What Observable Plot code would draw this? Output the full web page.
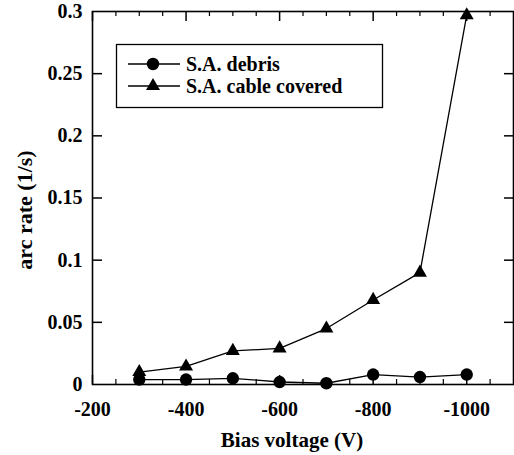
<!DOCTYPE html>
<html>
<head>
<meta charset="utf-8">
<script src="https://cdn.jsdelivr.net/npm/d3@7"></script>
<script src="https://cdn.jsdelivr.net/npm/@observablehq/plot@0.6"></script>
<style>
  html, body { margin: 0; padding: 0; background: #fff; }
  #chart { width: 514px; height: 455px; }
</style>
</head>
<body>
<div id="chart"></div>
<script>
// ---- data ----
const voltages = [-300, -400, -500, -600, -700, -800, -900, -1000];
const debris   = [0.004, 0.004, 0.005, 0.002, 0.001, 0.008, 0.006, 0.008];
const cable    = [0.010, 0.0145, 0.027, 0.029, 0.045, 0.068, 0.090, 0.297];
const seriesNames = ["S.A. debris", "S.A. cable covered"];
const xTickLabels = [-200, -400, -600, -800, -1000];
const xMinorTicks = [-250, -300, -350, -450, -500, -550, -650, -700, -750, -850, -900, -950, -1050];
const yTickLabels = [0, 0.05, 0.1, 0.15, 0.2, 0.25, 0.3];
const yInnerTicks = [0.05, 0.1, 0.15, 0.2, 0.25];
const xTitle = "Bias voltage (V)";
const yTitle = "arc rate (1/s)";

const debrisData = voltages.map((v, i) => ({v, rate: debris[i]}));
const cableData  = voltages.map((v, i) => ({v, rate: cable[i]}));

const W = 514, H = 455;
const mL = 92, mR = 1, mT = 11, mB = 71;
const pw = W - mL - mR, ph = H - mT - mB;

const chart = Plot.plot({
  width: W, height: H,
  marginLeft: mL, marginRight: mR, marginTop: mT, marginBottom: mB,
  style: {fontFamily: "'Liberation Serif', 'Times New Roman', serif", fontSize: "20px", fontWeight: "bold", background: "#fff", color: "#000", overflow: "visible"},
  x: {domain: [-200, -1100], ticks: xTickLabels, tickSize: 0, tickPadding: 17, tickFormat: d => String(d), label: null},
  y: {domain: [0, 0.3], ticks: yTickLabels, tickSize: 0, tickPadding: 10, tickFormat: d => String(d), label: null},
  marks: [
    // inward ticks
    Plot.tickX(xTickLabels, {x: d => d, insetBottom: ph - 10, stroke: "#000", strokeWidth: 1.5}),
    Plot.tickX(xMinorTicks, {x: d => d, insetBottom: ph - 5, stroke: "#000", strokeWidth: 1.2}),
    Plot.tickX(xTickLabels, {x: d => d, insetTop: ph - 9, stroke: "#000", strokeWidth: 1.5}),
    Plot.tickX(xMinorTicks, {x: d => d, insetTop: ph - 5, stroke: "#000", strokeWidth: 1.2}),
    Plot.tickY(yInnerTicks, {y: d => d, insetRight: pw - 10, stroke: "#000", strokeWidth: 1.5}),
    Plot.tickY(yInnerTicks, {y: d => d, insetLeft: pw - 9, stroke: "#000", strokeWidth: 1.5}),
    // series
    Plot.line(debrisData, {x: "v", y: "rate", stroke: "#000", strokeWidth: 1.3}),
    Plot.line(cableData, {x: "v", y: "rate", stroke: "#000", strokeWidth: 1.3}),
    Plot.dot(debrisData, {x: "v", y: "rate", symbol: "circle", r: 6.2, fill: "#000", stroke: "none"}),
    Plot.dot(cableData, {x: "v", y: "rate", symbol: "triangle", r: 5.2, fill: "#000", stroke: "none"}),
    Plot.frame({stroke: "#000", strokeWidth: 1.6})
  ]
});

document.getElementById("chart").appendChild(chart);

// titles and legend
const svg = d3.select(chart);
const font = "'Liberation Serif', 'Times New Roman', serif";
svg.append("text")
  .attr("x", 292).attr("y", 447)
  .attr("text-anchor", "middle")
  .attr("font-family", font).attr("font-weight", "bold").attr("font-size", 21)
  .attr("fill", "#000")
  .text(xTitle);
svg.append("text")
  .attr("transform", "translate(32,210) rotate(-90)")
  .attr("text-anchor", "middle")
  .attr("font-family", font).attr("font-weight", "bold").attr("font-size", 22)
  .attr("fill", "#000")
  .text(yTitle);

const lg = svg.append("g");
lg.append("rect").attr("x", 116.5).attr("y", 44.5).attr("width", 266).attr("height", 63)
  .attr("fill", "#fff").attr("stroke", "#000").attr("stroke-width", 1.3);
const rows = [64, 86];
const symbols = [d3.symbolCircle, d3.symbolTriangle];
const sizes = [Math.PI * 6.2 * 6.2, Math.PI * 5.2 * 5.2];
seriesNames.forEach((name, i) => {
  const y = rows[i];
  lg.append("line").attr("x1", 128).attr("x2", 180).attr("y1", y).attr("y2", y)
    .attr("stroke", "#000").attr("stroke-width", 1.3);
  lg.append("path").attr("d", d3.symbol(symbols[i], sizes[i])())
    .attr("transform", `translate(153,${y})`).attr("fill", "#000");
  lg.append("text").attr("x", 186).attr("y", y + 7)
    .attr("text-anchor", "start")
    .attr("font-family", font).attr("font-weight", "bold").attr("font-size", 20)
    .attr("fill", "#000").text(name);
});
</script>
</body>
</html>
